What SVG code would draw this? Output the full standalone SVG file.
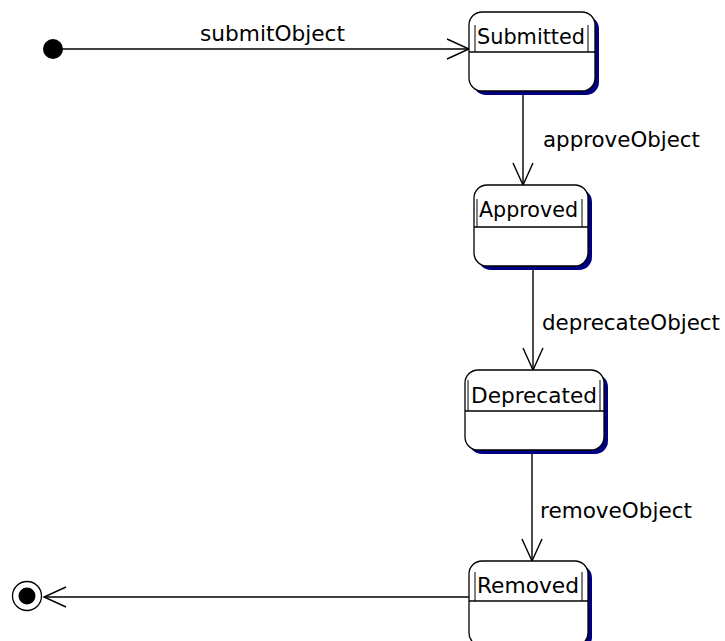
<svg xmlns="http://www.w3.org/2000/svg" width="725" height="641" viewBox="0 0 725 641">
<style>
text{font-family:"DejaVu Sans","Liberation Sans",sans-serif;font-size:21px;fill:#000}
.shadow{fill:#000080}
.box{fill:#fff;stroke:#000;stroke-width:1.3}
.div{stroke:#000;stroke-width:1.3;fill:none}
.inner{stroke:#000;stroke-width:1;fill:none}
.conn{stroke:#000;stroke-width:1.4;fill:none}
</style>
<defs>
<marker id="open" markerUnits="userSpaceOnUse" markerWidth="30" markerHeight="30" viewBox="-25 -15 30 30" refX="0" refY="0" orient="auto">
<path d="M-22,-10 L0,0 L-22,10" fill="none" stroke="#000" stroke-width="1.4"/>
</marker>
</defs>
<rect width="725" height="641" fill="#fff"/>
<g id="connectors">
<line class="conn" x1="53" y1="49" x2="469" y2="49" marker-end="url(#open)"/>
<line class="conn" x1="523" y1="91" x2="523" y2="185" marker-end="url(#open)"/>
<line class="conn" x1="533" y1="266" x2="533" y2="370" marker-end="url(#open)"/>
<line class="conn" x1="532" y1="450" x2="532" y2="561" marker-end="url(#open)"/>
<line class="conn" x1="469" y1="597" x2="44" y2="597" marker-end="url(#open)"/>
<text x="200" y="41" textLength="145" lengthAdjust="spacingAndGlyphs">submitObject</text>
<text x="543" y="147" textLength="157" lengthAdjust="spacingAndGlyphs">approveObject</text>
<text x="542" y="330" textLength="178" lengthAdjust="spacingAndGlyphs">deprecateObject</text>
<text x="540" y="518" textLength="152" lengthAdjust="spacingAndGlyphs">removeObject</text>
</g>
<g id="initial">
<circle cx="53" cy="49" r="10" fill="#000"/>
</g>
<g id="final">
<circle cx="27" cy="596" r="14.5" fill="#fff" stroke="#000" stroke-width="1.3"/>
<circle cx="27" cy="596" r="8.5" fill="#000"/>
</g>
<g id="submitted">
<rect class="shadow" x="473" y="16" width="126" height="79" rx="13"/>
<rect class="box" x="469" y="12" width="126" height="79" rx="13"/>
<line class="div" x1="469" y1="52" x2="595" y2="52"/>
<path class="inner" d="M475,25 V52 M588,25 V52"/>
<text x="477" y="44" textLength="108" lengthAdjust="spacingAndGlyphs">Submitted</text>
</g>
<g id="approved">
<rect class="shadow" x="478" y="189" width="114" height="81" rx="13"/>
<rect class="box" x="474" y="185" width="114" height="81" rx="13"/>
<line class="div" x1="474" y1="227" x2="588" y2="227"/>
<path class="inner" d="M477,199 V227 M582,199 V227"/>
<text x="479" y="217" textLength="99" lengthAdjust="spacingAndGlyphs">Approved</text>
</g>
<g id="deprecated">
<rect class="shadow" x="469" y="374" width="139" height="80" rx="13"/>
<rect class="box" x="465" y="370" width="139" height="80" rx="13"/>
<line class="div" x1="465" y1="411" x2="604" y2="411"/>
<path class="inner" d="M468,380 V411 M600,380 V411"/>
<text x="471" y="403" textLength="126" lengthAdjust="spacingAndGlyphs">Deprecated</text>
</g>
<g id="removed">
<rect class="shadow" x="473" y="565" width="119" height="85" rx="13"/>
<rect class="box" x="469" y="561" width="119" height="85" rx="13"/>
<line class="div" x1="469" y1="601" x2="588" y2="601"/>
<path class="inner" d="M475,572 V601 M582,572 V601"/>
<text x="477" y="593" textLength="102" lengthAdjust="spacingAndGlyphs">Removed</text>
</g>
</svg>
